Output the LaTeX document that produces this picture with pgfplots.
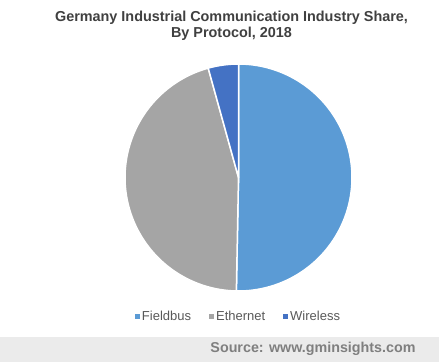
\documentclass[border=0pt]{standalone}
\usepackage{pgfplots}
\usepackage{pgfplotstable}
\pgfplotsset{compat=1.18}
\usepackage{fontspec}
\setmainfont{Liberation Sans}
\definecolor{cField}{HTML}{5B9BD5}
\definecolor{cEth}{HTML}{A5A5A5}
\definecolor{cWire}{HTML}{4472C4}
\definecolor{cTitle}{HTML}{404040}
\definecolor{cLeg}{HTML}{595959}
\definecolor{cSrc}{HTML}{7F7F7F}
\definecolor{cBand}{HTML}{EBEBEB}
\pgfplotstableread{
label value
Fieldbus 50.3
Ethernet 45.4
Wireless 4.3
}\piedata
\pgfplotstablegetelem{0}{value}\of\piedata \let\vA\pgfplotsretval
\pgfplotstablegetelem{1}{value}\of\piedata \let\vB\pgfplotsretval
\pgfplotstablegetelem{2}{value}\of\piedata \let\vC\pgfplotsretval
\pgfmathsetmacro\aA{90}
\pgfmathsetmacro\aB{\aA-3.6*\vA}
\pgfmathsetmacro\aC{\aB-3.6*\vB}
\pgfmathsetmacro\aD{\aC-3.6*\vC}
\begin{document}%
\begin{tikzpicture}
\fill[white] (0pt,0pt) rectangle (439pt,-362pt);
\fill[cBand] (0pt,-337pt) rectangle (439pt,-362pt);
\node[anchor=east, text=cSrc, font=\fontsize{14.3}{16}\selectfont\bfseries] at (419pt,-348.5pt) {Source: www.gminsights.com};
\node[align=center, text=cTitle, font=\fontsize{14.4}{16}\selectfont\bfseries] at (231.5pt,-25.5pt) {Germany Industrial Communication Industry Share,\\By Protocol, 2018};
\begin{axis}[
  at={(238.5pt,-177.5pt)}, anchor=center,
  scale only axis, width=227pt, height=227pt,
  xmin=-1, xmax=1, ymin=-1, ymax=1,
  hide axis, clip=false,
  legend style={draw=none, fill=none, at={(0.5,-0.1145)}, anchor=center,
    legend columns=-1, font=\fontsize{13}{14}\selectfont, text=cLeg,
    /tikz/every even column/.append style={column sep=16pt},
    inner sep=0pt},
  legend image code/.code={\fill[#1,draw=none] (-2pt,-2.5pt) rectangle (3pt,2.5pt);},
  legend cell align=left,
]
\addplot[fill=cField, draw=white, line width=1.5pt, domain=\aB:\aA, samples=120, variable=\t]
  ({cos(\t)},{sin(\t)}) -- (axis cs:0,0) -- cycle;
\addlegendentry{Fieldbus}
\addplot[fill=cEth, draw=white, line width=1.5pt, domain=\aC:\aB, samples=120, variable=\t]
  ({cos(\t)},{sin(\t)}) -- (axis cs:0,0) -- cycle;
\addlegendentry{Ethernet}
\addplot[fill=cWire, draw=white, line width=1.5pt, domain=\aD:\aC, samples=20, variable=\t]
  ({cos(\t)},{sin(\t)}) -- (axis cs:0,0) -- cycle;
\addlegendentry{Wireless}
\end{axis}
\pgfresetboundingbox
\path[use as bounding box] (0pt,0pt) rectangle (439pt,-362pt);
\end{tikzpicture}%
\end{document}
